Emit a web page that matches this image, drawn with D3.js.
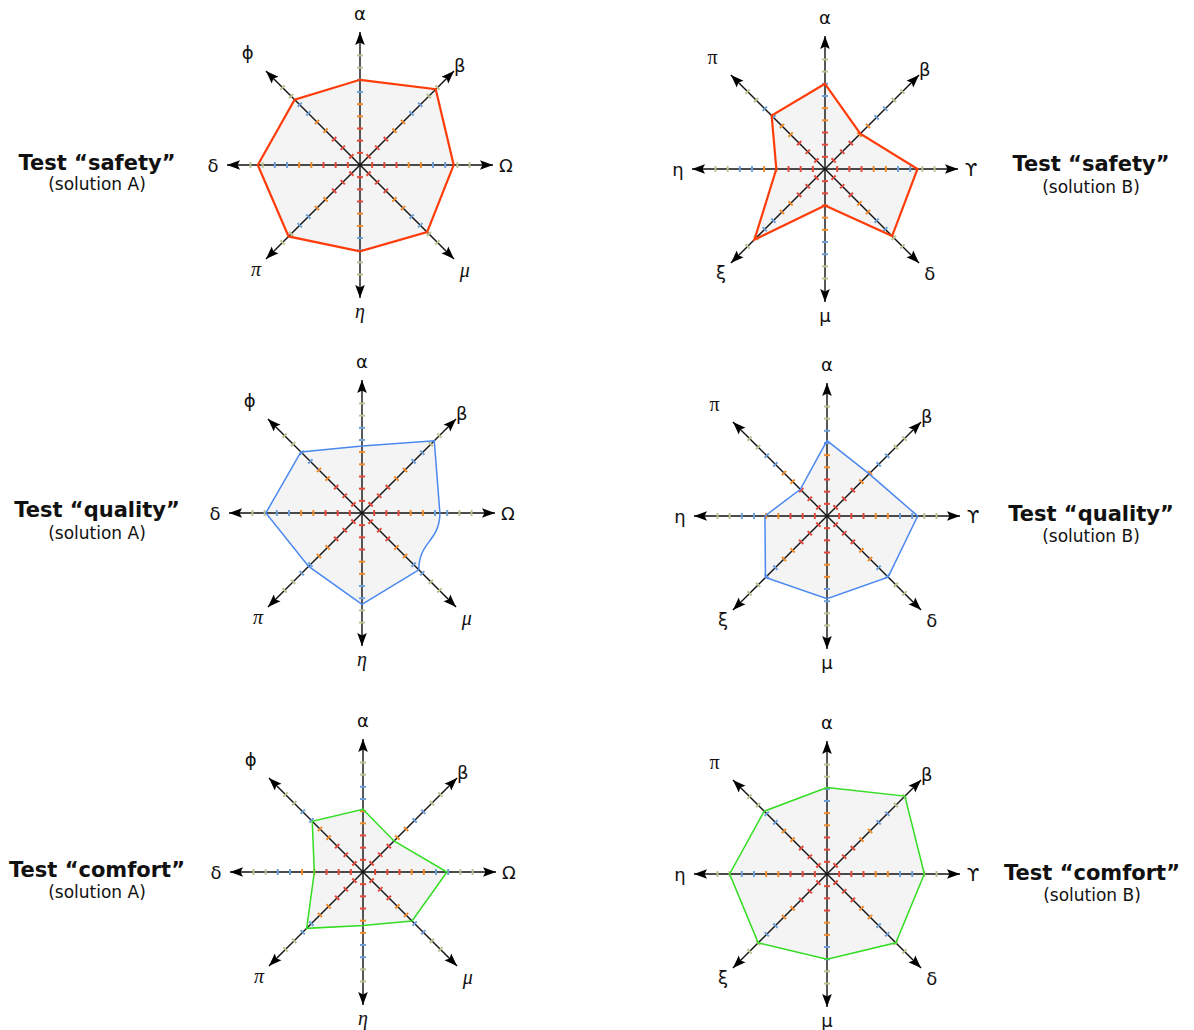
<!DOCTYPE html>
<html>
<head>
<meta charset="utf-8">
<script src="https://cdn.jsdelivr.net/npm/d3@7"></script>
<style>
  body { margin: 0; background: #fff; }
  svg { display: block; }
</style>
</head>
<body>
<svg id="chart" width="1194" height="1030"></svg>
<script>
// axis names, clockwise from the top
var axesA = ["α", "β", "Ω", "μ", "η", "π", "δ", "ϕ"];
var axesB = ["α", "β", "ϒ", "δ", "μ", "ξ", "η", "π"];

var safetyA  = [7.0, 8.8, 7.7, 7.8, 7.1, 8.3, 8.4, 7.6];
var safetyB  = [7.0, 4.1, 7.6, 7.8, 3.0, 8.2, 4.0, 6.2];
var qualityA = [5.5, 8.4, 6.4, 6.6, 7.5, 6.2, 7.9, 7.1];
var qualityB = [6.2, 4.9, 7.45, 7.1, 6.8, 7.15, 5.1, 3.1];
var comfortA = [5.15, 3.6, 6.9, 5.7, 4.4, 6.55, 4.0, 5.9];
var comfortB = [7.1, 9.05, 8.0, 8.0, 7.0, 8.0, 8.0, 7.3];

var tickValues = [1, 2, 3, 4, 5, 6, 7, 8, 9];
var titles = ["Test “safety”", "Test “safety”", "Test “quality”", "Test “quality”",
              "Test “comfort”", "Test “comfort”"];
var subtitles = ["(solution A)", "(solution B)", "(solution A)", "(solution B)",
                 "(solution A)", "(solution B)"];

// layout of the six panels
var panels = [
    {axes: axesA, values: safetyA,  color: "#ff3c0a", width: 2.2, cx: 360, cy: 165, tx: 97,   ty: 170, sy: 190},
    {axes: axesB, values: safetyB,  color: "#ff3c0a", width: 2.2, cx: 825, cy: 169, tx: 1091, ty: 171, sy: 193},
    {axes: axesA, values: qualityA, color: "#4a88f0", width: 1.5, cx: 362, cy: 513, tx: 97,   ty: 517, sy: 539, curve: 2},
    {axes: axesB, values: qualityB, color: "#4a88f0", width: 1.5, cx: 827, cy: 516, tx: 1091, ty: 521, sy: 542},
    {axes: axesA, values: comfortA, color: "#33dd22", width: 1.5, cx: 363, cy: 872, tx: 97,   ty: 877, sy: 898},
    {axes: axesB, values: comfortB, color: "#33dd22", width: 1.5, cx: 827, cy: 874, tx: 1092, ty: 880, sy: 901}
];

var axisLength = 133;
var labelRadius = [152, 141, 146, 148, 146, 147, 147, 159];
var r = d3.scaleLinear().domain([0, 10]).range([0, 121.7]);
var tickColor = d3.scaleThreshold().domain([4, 6, 8])
    .range(["#e5493a", "#f08c2c", "#6d9fd8", "#bfc292"]);

var svg = d3.select("#chart");

svg.append("defs").append("marker")
    .attr("id", "arrow")
    .attr("viewBox", "0 -5 13 10")
    .attr("refX", 13)
    .attr("refY", 0)
    .attr("markerUnits", "userSpaceOnUse")
    .attr("markerWidth", 13)
    .attr("markerHeight", 10)
    .attr("orient", "auto")
    .append("path")
    .attr("d", "M0,-4.8L13,0L0,4.8L2.5,0Z")
    .style("fill", "#000");

function angle(i) {
    return i * Math.PI / 4;
}

function pt(p, dist, i) {
    return [p.cx + dist * Math.sin(angle(i)), p.cy - dist * Math.cos(angle(i))];
}

function isSerif(p, d) {
    return d == "π" || (p.axes === axesA && (d == "μ" || d == "η"));
}

function polyPath(p) {
    var pts = p.values.map(function (v, i) { return pt(p, r(v), i); });
    var d = "M" + pts[0];
    for (var i = 1; i <= pts.length; i++) {
        var a = pts[i - 1], b = pts[i % pts.length];
        if (p.curve === i - 1) {
            // one soft S-shaped edge (quality A, Ω -> μ)
            var dy = b[1] - a[1];
            d += "C" + [a[0], a[1] + dy * 0.5] + " " + [b[0], b[1] - dy * 0.5] + " " + b;
        } else {
            d += "L" + b;
        }
    }
    return d + "Z";
}

panels.forEach(function (p, k) {
    var g = svg.append("g");

    g.append("path")
        .attr("d", polyPath(p))
        .style("fill", "#f4f4f4")
        .style("stroke", "none");

    // spokes with arrow heads
    g.selectAll(".spoke")
        .data(p.axes)
        .enter().append("line")
        .attr("class", "spoke")
        .attr("x1", p.cx)
        .attr("y1", p.cy)
        .attr("x2", function (d, i) { return pt(p, axisLength, i)[0]; })
        .attr("y2", function (d, i) { return pt(p, axisLength, i)[1]; })
        .style("stroke", "#111")
        .style("stroke-width", 1.4)
        .attr("marker-end", "url(#arrow)");

    // coloured ticks along each spoke
    var ticks = [];
    p.axes.forEach(function (a, i) {
        tickValues.forEach(function (t) { ticks.push({i: i, t: t}); });
    });
    g.selectAll(".tick")
        .data(ticks)
        .enter().append("line")
        .attr("class", "tick")
        .each(function (d) {
            var c = pt(p, r(d.t), d.i);
            var ux = Math.cos(angle(d.i)) * 3, uy = Math.sin(angle(d.i)) * 3;
            d3.select(this)
                .attr("x1", c[0] - ux).attr("y1", c[1] - uy)
                .attr("x2", c[0] + ux).attr("y2", c[1] + uy);
        })
        .style("stroke", function (d) { return tickColor(d.t); })
        .style("stroke-width", 2);

    g.append("path")
        .attr("d", polyPath(p))
        .style("fill", "none")
        .style("stroke", p.color)
        .style("stroke-width", p.width)
        .style("stroke-linejoin", "miter");

    // axis labels
    g.selectAll(".lbl")
        .data(p.axes)
        .enter().append("text")
        .attr("class", "lbl")
        .attr("x", function (d, i) { return pt(p, labelRadius[i], i)[0]; })
        .attr("y", function (d, i) { return pt(p, labelRadius[i], i)[1]; })
        .attr("text-anchor", "middle")
        .attr("dominant-baseline", "central")
        .style("font-family", function (d) {
            return isSerif(p, d) ? "'Liberation Serif', serif" : "'DejaVu Sans', sans-serif";
        })
        .style("font-style", function (d) {
            return (p.axes === axesA && isSerif(p, d)) ? "italic" : "normal";
        })
        .style("font-size", function (d) {
            return isSerif(p, d) ? "20px" : "18px";
        })
        .style("fill", "#111")
        .text(function (d) { return d; });

    svg.append("text")
        .attr("x", p.tx)
        .attr("y", p.ty)
        .attr("text-anchor", "middle")
        .style("font-family", "'DejaVu Sans', sans-serif")
        .style("font-weight", "bold")
        .style("font-size", "21px")
        .style("fill", "#111")
        .text(titles[k]);

    svg.append("text")
        .attr("x", p.tx)
        .attr("y", p.sy)
        .attr("text-anchor", "middle")
        .style("font-family", "'DejaVu Sans', sans-serif")
        .style("font-size", "17px")
        .style("fill", "#111")
        .text(subtitles[k]);
});
</script>
</body>
</html>
